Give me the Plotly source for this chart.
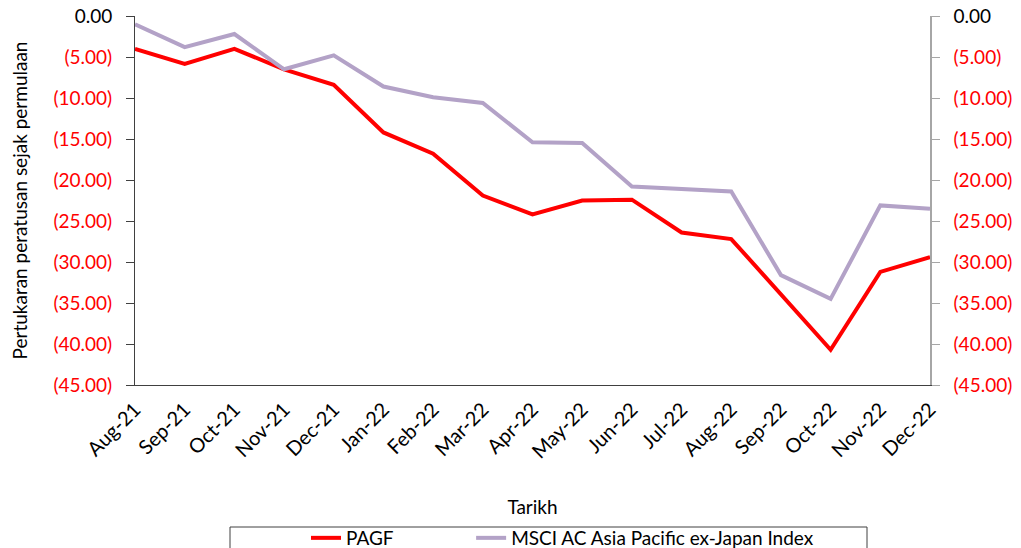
import plotly.graph_objects as go

months = ["Aug-21", "Sep-21", "Oct-21", "Nov-21", "Dec-21", "Jan-22", "Feb-22", "Mar-22",
          "Apr-22", "May-22", "Jun-22", "Jul-22", "Aug-22", "Sep-22", "Oct-22", "Nov-22", "Dec-22"]
pagf = [-4.0, -5.85, -4.0, -6.5, -8.4, -14.2, -16.8, -21.9, -24.2, -22.5, -22.4,
        -26.4, -27.2, -34.0, -40.7, -31.2, -29.4]
msci = [-1.0, -3.8, -2.2, -6.5, -4.8, -8.6, -9.9, -10.6, -15.4, -15.5, -20.8,
        -21.1, -21.4, -31.6, -34.5, -23.1, -23.5]
tick_vals = [0, -5, -10, -15, -20, -25, -30, -35, -40, -45]
tick_text = ["<span style='color:black'>0.00</span>"] + ["(%.2f)" % abs(v) for v in tick_vals[1:]]

W, H = 1021, 548
OFF = 8  # default page body margin shifts the figure by 8px
L, R, T, B = 135 - OFF, 91 + OFF, 16 - OFF, 163 + OFF
pw, ph = W - L - R, H - T - B


def px(x):  # screen pixel -> paper x
    return (x - OFF - L) / pw


def py(y):  # screen pixel -> paper y
    return (H - B - (y - OFF)) / ph


FONT = "Lato"
PAD = "\u00a0" * 15
fig = go.Figure()
fig.add_trace(go.Scatter(x=months, y=pagf, name="PAGF" + PAD, mode="lines",
                         line=dict(color="#FF0000", width=4)))
fig.add_trace(go.Scatter(x=months, y=msci, name="MSCI AC Asia Pacific ex-Japan Index",
                         mode="lines", line=dict(color="#B3A2C7", width=4), yaxis="y2"))

fig.update_layout(
    width=W, height=H,
    margin=dict(l=L, r=R, t=T, b=B, autoexpand=False),
    plot_bgcolor="white", paper_bgcolor="white",
    font=dict(family=FONT, size=19, color="black"),
    xaxis=dict(type="category", range=[0, len(months) - 1], tickangle=-45, automargin=False,
               showline=True, linecolor="#404040", linewidth=1, showgrid=False,
               ticks="", tickfont=dict(size=20, color="black"), ticklabelstandoff=4,
               title=dict(text="Tarikh", font=dict(size=19), standoff=39)),
    yaxis=dict(range=[-45, 0], tickvals=tick_vals, ticktext=tick_text, automargin=False,
               showline=True, linecolor="#404040", linewidth=1, showgrid=False,
               ticks="outside", ticklen=8, tickcolor="#404040", zeroline=False,
               ticklabelstandoff=10, ticklabeloverflow="allow",
               tickfont=dict(size=19, color="#FF0000"),
               title=dict(text="Pertukaran peratusan sejak permulaan", font=dict(size=19), standoff=33)),
    yaxis2=dict(range=[-45, 0], tickvals=tick_vals, ticktext=tick_text, overlaying="y",
                side="right", showline=True, linecolor="#A6A6A6", linewidth=1.5, showgrid=False,
                ticks="outside", ticklen=8, tickcolor="#A6A6A6", zeroline=False, automargin=False,
                ticklabelstandoff=10, ticklabeloverflow="allow",
                tickfont=dict(size=19, color="#FF0000")),
    legend=dict(orientation="h", xref="container", yref="container", xanchor="left",
                x=(306 - OFF) / W, y=(H - (519 - OFF)) / H, yanchor="top",
                borderwidth=0, font=dict(size=19), bgcolor="rgba(0,0,0,0)"),
    shapes=[dict(type="rect", xref="paper", yref="paper", x0=px(230), x1=px(867),
                 y0=py(527), y1=py(560), line=dict(color="#404040", width=1),
                 fillcolor="rgba(0,0,0,0)")],
)
fig.write_html("out.html")
